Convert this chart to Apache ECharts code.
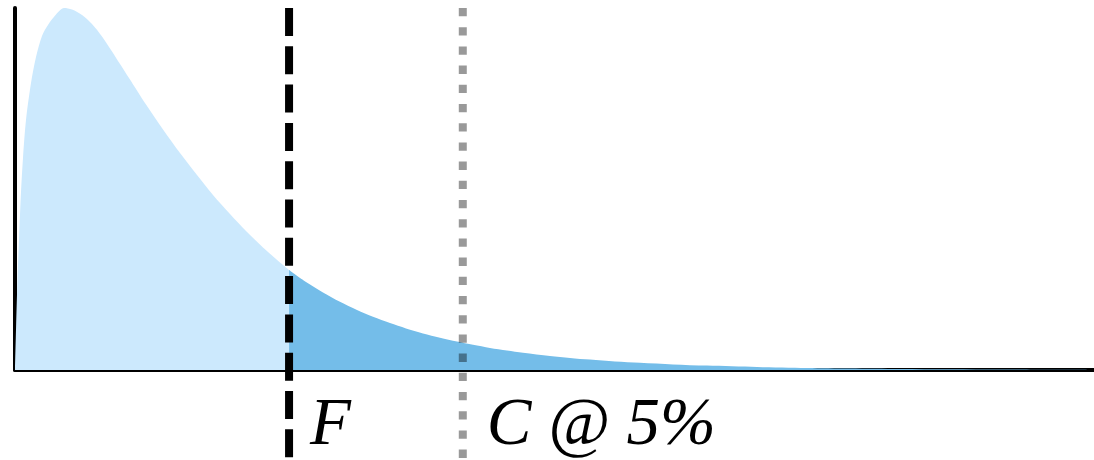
<!DOCTYPE html>
<html>
<head>
<meta charset="utf-8">
<script src="https://cdn.jsdelivr.net/npm/echarts@6/dist/echarts.min.js"></script>
<style>
  html, body { margin: 0; padding: 0; background: #fff; }
  #chart { width: 1094px; height: 460px; }
</style>
</head>
<body>
<div id="chart"></div>
<script>
// Density curve (x: statistic, y: density)
const curveX = [0, 0.0093, 0.0185, 0.0278, 0.0371, 0.0463, 0.0556, 0.0741, 0.1019, 0.1483,
  0.1946, 0.2502, 0.3058, 0.380, 0.4541, 0.5283, 0.621, 0.7136, 0.8063, 0.8897,
  0.9731, 1.0565, 1.2141, 1.3717, 1.5292, 1.6867, 1.835, 1.9926, 2.1409, 2.2984,
  2.4189, 2.54, 2.6969, 2.8545, 3.012, 3.1696, 3.3179, 3.4754, 3.6237, 3.7813,
  3.9388, 4.0964, 4.2447, 4.4022, 4.5598, 4.7081, 4.9583, 5.1437, 5.329, 5.5607,
  5.7924, 6.0982, 6.4133, 6.8768, 7.3401, 7.7386, 8.202, 9.1288, 10];
const curveY = [0, 0.08, 0.15, 0.21, 0.26, 0.31, 0.356, 0.424, 0.50, 0.574,
  0.626, 0.668, 0.69, 0.711, 0.724, 0.721, 0.71, 0.692, 0.667, 0.64,
  0.612, 0.584, 0.531, 0.481, 0.434, 0.39, 0.35, 0.312, 0.278, 0.245,
  0.222, 0.20, 0.176, 0.155, 0.1364, 0.12, 0.1064, 0.0938, 0.0832, 0.0732,
  0.0646, 0.0568, 0.0504, 0.0442, 0.039, 0.0346, 0.0282, 0.0242, 0.0208, 0.0172,
  0.0144, 0.0112, 0.0088, 0.006, 0.004, 0.0028, 0.0018, 0.0008, 0];
// Vertical markers
const markerX = [2.54, 4.15];
const markerLabels = ['F', 'C @ 5%'];

const xMax = 10;
const yMax = 0.724;
const Fval = markerX[0];

const pts = curveX.map((x, i) => [x, curveY[i]]);
const leftPts = pts.filter(p => p[0] <= Fval);
const rightPts = pts.filter(p => p[0] >= Fval);

const markerStyles = [
  { stroke: '#000', lineWidth: 8, lineDash: [28, 10.3], labelDx: 21 },
  { stroke: 'rgba(0,0,0,0.4)', lineWidth: 8, lineDash: [8.3, 10.9], labelDx: 24 }
];

const chart = echarts.init(document.getElementById('chart'));
chart.setOption({
  animation: false,
  backgroundColor: '#fff',
  grid: { left: 15, right: 0, top: 8, bottom: 90, containLabel: false },
  xAxis: {
    type: 'value', min: 0, max: xMax,
    axisLine: { show: true, onZero: false, lineStyle: { color: '#000', width: 4 } },
    axisTick: { show: false }, axisLabel: { show: false }, splitLine: { show: false }
  },
  yAxis: {
    type: 'value', min: 0, max: yMax,
    axisLine: { show: true, lineStyle: { color: '#000', width: 4 } },
    axisTick: { show: false }, axisLabel: { show: false }, splitLine: { show: false }
  },
  series: [
    {
      type: 'line', data: leftPts, smooth: 0.3,
      symbol: 'none', lineStyle: { width: 0 },
      areaStyle: { color: '#CCE9FD', opacity: 1 }, z: 2
    },
    {
      type: 'line', data: rightPts, smooth: 0.3,
      symbol: 'none', lineStyle: { width: 0 },
      areaStyle: { color: '#74BDE9', opacity: 1 }, z: 2
    },
    {
      type: 'custom', z: 5, clip: false,
      data: markerX.map(x => [x, 0]),
      renderItem: function (params, api) {
        const i = params.dataIndex;
        const top = api.coord([markerX[i], yMax]);
        const base = api.coord([markerX[i], 0]);
        const s = markerStyles[i];
        return {
          type: 'group',
          children: [
            {
              type: 'line',
              shape: { x1: top[0], y1: top[1], x2: top[0], y2: api.getHeight() },
              style: { stroke: s.stroke, lineWidth: s.lineWidth, lineDash: s.lineDash }
            },
            {
              type: 'text',
              x: top[0] + s.labelDx, y: base[1] + 56,
              style: {
                text: markerLabels[i],
                font: 'italic 67px "Liberation Serif", "DejaVu Serif", serif',
                fill: '#000', align: 'left', verticalAlign: 'middle'
              }
            }
          ]
        };
      }
    }
  ]
});
</script>
</body>
</html>
